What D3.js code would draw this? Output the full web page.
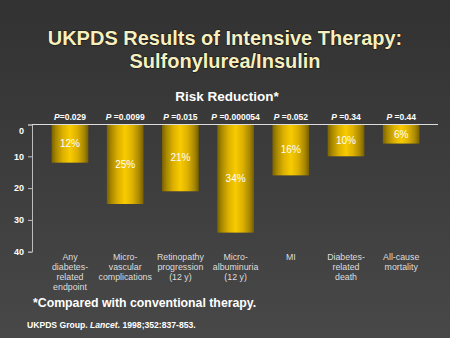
<!DOCTYPE html>
<html>
<head>
<meta charset="utf-8">
<script src="https://cdn.jsdelivr.net/npm/d3@7"></script>
<style>
  html, body { margin: 0; padding: 0; background: #3a3a3a; }
  svg { display: block; font-family: "Liberation Sans", Arial, sans-serif; }
</style>
</head>
<body>
<svg id="chart" width="450" height="338"></svg>
<script>
// Outcome categories (multi-line labels)
const categories = [
  ["Any", "diabetes-", "related", "endpoint"],
  ["Micro-", "vascular", "complications"],
  ["Retinopathy", "progression", "(12 y)"],
  ["Micro-", "albuminuria", "(12 y)"],
  ["MI"],
  ["Diabetes-", "related", "death"],
  ["All-cause", "mortality"]
];
// Risk reduction, percent
const riskReduction = [12, 25, 21, 34, 16, 10, 6];
// P values shown above each bar
const pValues = ["=0.029", " =0.0099", " =0.015", " =0.000054", " =0.052", " =0.34", " =0.44"];
// Y axis ticks
const yTicks = [0, 10, 20, 30, 40];

const svg = d3.select("#chart");
const W = 450, H = 338;

// Background gradient
const defs = svg.append("defs");
const bg = defs.append("linearGradient").attr("id", "bg").attr("x1", 0).attr("y1", 0).attr("x2", 0).attr("y2", 1);
bg.append("stop").attr("offset", "0%").attr("stop-color", "#323232");
bg.append("stop").attr("offset", "100%").attr("stop-color", "#484848");
svg.append("rect").attr("width", W).attr("height", H).attr("fill", "url(#bg)");

// Cylindrical gold shading for the bars
const gold = defs.append("linearGradient").attr("id", "gold").attr("x1", 0).attr("y1", 0).attr("x2", 1).attr("y2", 0);
[[0, "#7a6200"], [0.12, "#a88800"], [0.3, "#dcb000"], [0.5, "#f8cb00"], [0.7, "#dcb000"], [0.88, "#a88800"], [1, "#765e00"]]
  .forEach(([o, c]) => gold.append("stop").attr("offset", o).attr("stop-color", c));

// Titles
const title = svg.append("g")
  .attr("font-weight", "bold").attr("fill", "#f6efbf")
  .attr("stroke", "#151515").attr("stroke-width", 1.2).attr("paint-order", "stroke")
  .attr("text-anchor", "middle").attr("font-size", 20);
title.append("text").attr("x", 225).attr("y", 44.5).text("UKPDS Results of Intensive Therapy:");
title.append("text").attr("x", 225).attr("y", 67.5).text("Sulfonylurea/Insulin");

svg.append("text").attr("x", 227).attr("y", 101)
  .attr("text-anchor", "middle").attr("font-weight", "bold").attr("font-size", 13.5)
  .attr("fill", "#ffffff").text("Risk Reduction*");

// Scales
const x = d3.scaleBand()
  .domain(d3.range(categories.length))
  .range([42.4, 428.8])
  .paddingInner(0.335).paddingOuter(0.1675);
const y = d3.scaleLinear().domain([0, 40]).range([124.5, 251.7]);

// Y axis
const yAxis = svg.append("g").attr("transform", "translate(32,0)")
  .call(d3.axisLeft(y).tickValues(yTicks).tickSize(4).tickPadding(4));
yAxis.select(".domain").attr("stroke", "#bdbdbd");
yAxis.selectAll(".tick line").attr("stroke", "#bdbdbd");
yAxis.selectAll(".tick text")
  .attr("fill", "#ffffff").attr("font-size", 9).attr("font-weight", "bold")
  .attr("font-family", "Liberation Sans, Arial, sans-serif");
yAxis.selectAll(".tick").filter(d => d === 0).select("text").attr("dy", "0.95em");

// Bars
svg.append("g").selectAll("rect")
  .data(riskReduction)
  .join("rect")
  .attr("x", (d, i) => x(i))
  .attr("y", y(0))
  .attr("width", x.bandwidth())
  .attr("height", d => y(d) - y(0))
  .attr("fill", "url(#gold)");

// Zero baseline
svg.append("line")
  .attr("x1", 32).attr("x2", 438)
  .attr("y1", y(0)).attr("y2", y(0))
  .attr("stroke", "#dddddd").attr("stroke-width", 1.2);

// Value labels inside bars
svg.append("g").selectAll("text")
  .data(riskReduction)
  .join("text")
  .attr("x", (d, i) => x(i) + x.bandwidth() / 2)
  .attr("y", d => (y(0) + y(d)) / 2)
  .attr("dy", "0.35em")
  .attr("text-anchor", "middle")
  .attr("font-size", 10)
  .attr("fill", "#ffffff")
  .text(d => d + "%");

// P values above bars
const pg = svg.append("g").attr("font-size", 8.5).attr("font-weight", "bold").attr("fill", "#ffffff");
pValues.forEach((p, i) => {
  const t = pg.append("text")
    .attr("x", x(i) + x.bandwidth() / 2)
    .attr("y", 120)
    .attr("text-anchor", "middle")
    .attr("xml:space", "preserve");
  t.append("tspan").attr("font-style", "italic").text("P");
  t.append("tspan").text(p);
});

// Category labels
const cg = svg.append("g").attr("font-size", 8.8).attr("fill", "#dedede").attr("text-anchor", "middle");
categories.forEach((lines, i) => {
  const t = cg.append("text").attr("x", x(i) + x.bandwidth() / 2).attr("y", 259.5);
  lines.forEach((ln, j) => {
    t.append("tspan").attr("x", x(i) + x.bandwidth() / 2).attr("dy", j === 0 ? 0 : 10.2).text(ln);
  });
});

// Footnote
svg.append("text").attr("x", 33).attr("y", 306.5)
  .attr("font-weight", "bold").attr("font-size", 12.3).attr("fill", "#ffffff")
  .text("*Compared with conventional therapy.");

// Citation
const cite = svg.append("text").attr("x", 27).attr("y", 328)
  .attr("font-weight", "bold").attr("font-size", 8.6).attr("fill", "#ffffff");
cite.append("tspan").text("UKPDS Group. ");
cite.append("tspan").attr("font-style", "italic").text("Lancet.");
cite.append("tspan").text(" 1998;352:837-853.");
</script>
</body>
</html>
